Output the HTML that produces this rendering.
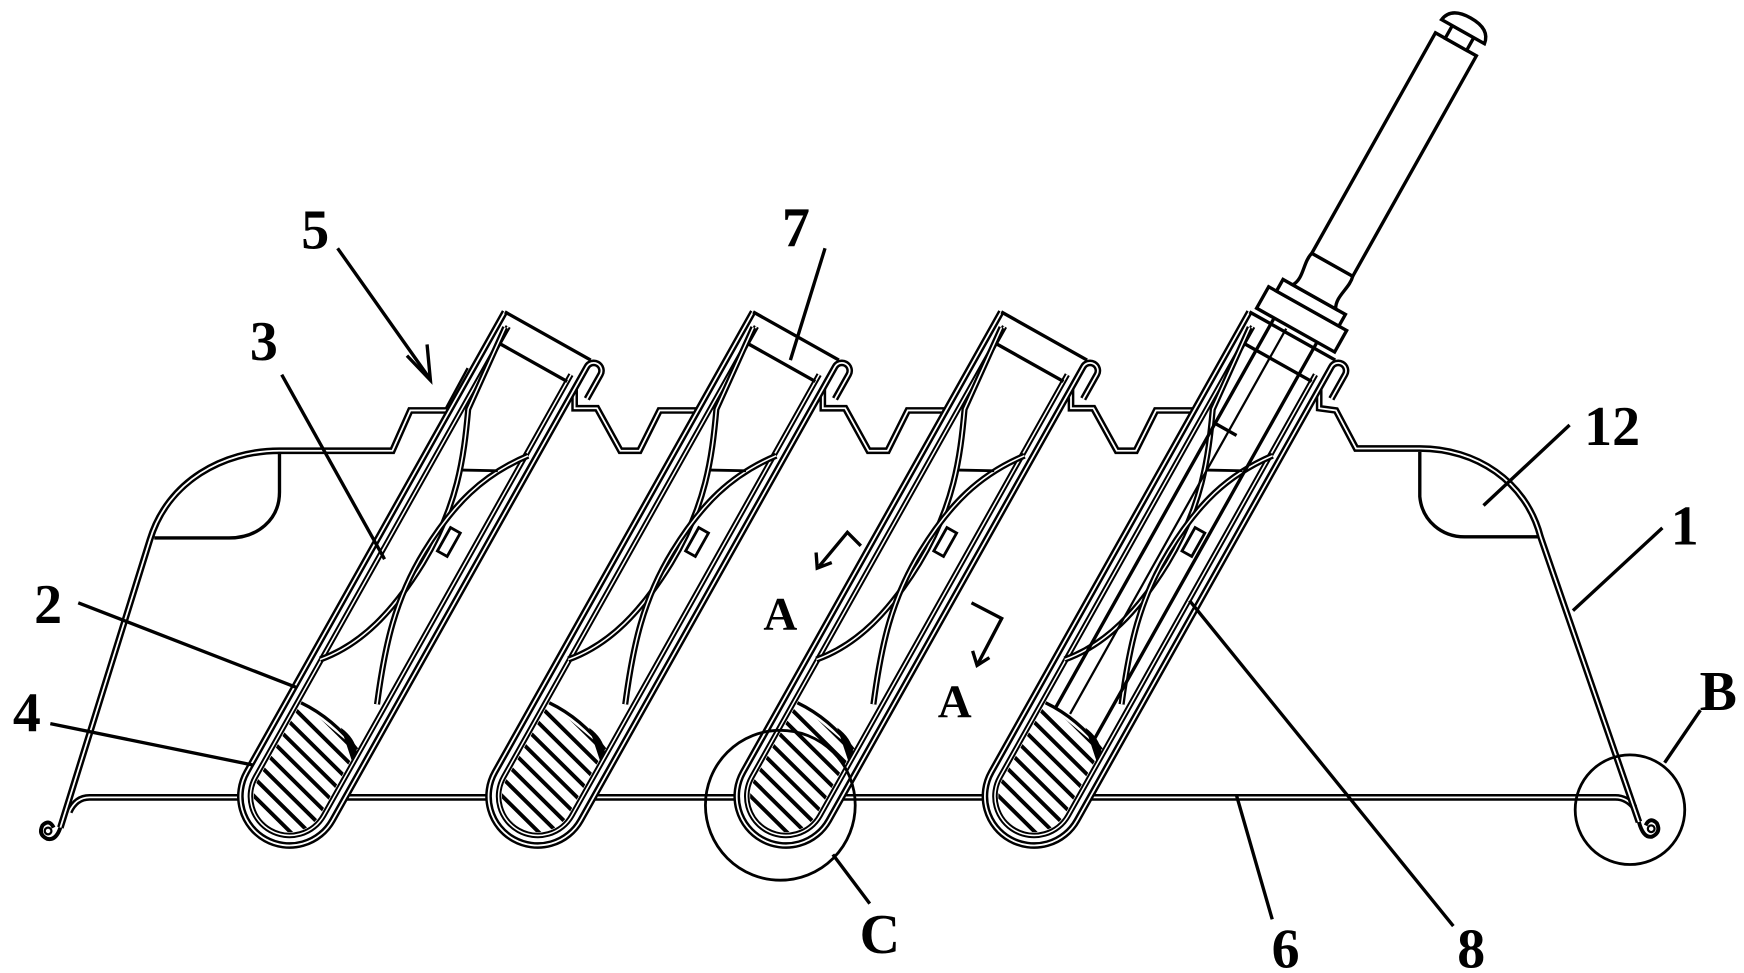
<!DOCTYPE html>
<html><head><meta charset="utf-8"><style>
html,body{margin:0;padding:0;background:#fff;}
svg{display:block;}
text{font-family:"Liberation Serif",serif;font-weight:bold;font-size:50px;fill:#000;}
</style></head><body>
<svg width="1744" height="973" viewBox="0 0 1560 870" preserveAspectRatio="none" xmlns="http://www.w3.org/2000/svg">
<defs>
  <path id="outer" d="M -44 -472 L -44 0 A 44 44 0 0 0 44 0 L 44 -465 A 7 7 0 0 1 58 -465 L 58 -440"/>
  <path id="vial" d="M -35 -462 L -35 0 A 35 35 0 0 0 35 0 L 35 -452"/>
  <path id="waistA" d="M -36 -120 C -10 -150 0 -190 2 -240 C 4 -300 -12 -340 -30 -380 L -37 -460"/>
  <path id="waistB" d="M 37 -370 C 10 -335 0 -300 -2 -250 C -4 -200 8 -160 28 -110"/>
  <clipPath id="hc"><path d="M -32 -78 L 32 -66 L 32 0 A 32 32 0 0 1 -32 0 Z"/></clipPath>
  <g id="hatch" clip-path="url(#hc)" stroke="#000" stroke-width="3.5">
    <line x1="-40" y1="-120" x2="40" y2="-98"/>
    <line x1="-40" y1="-108" x2="40" y2="-86"/>
    <line x1="-40" y1="-96" x2="40" y2="-74"/>
    <line x1="-40" y1="-84" x2="40" y2="-62"/>
    <line x1="-40" y1="-72" x2="40" y2="-50"/>
    <line x1="-40" y1="-60" x2="40" y2="-38"/>
    <line x1="-40" y1="-48" x2="40" y2="-26"/>
    <line x1="-40" y1="-36" x2="40" y2="-14"/>
    <line x1="-40" y1="-24" x2="40" y2="-2"/>
    <line x1="-40" y1="-12" x2="40" y2="10"/>
    <line x1="-40" y1="0" x2="40" y2="22"/>
    <line x1="-40" y1="12" x2="40" y2="34"/>
    <line x1="-40" y1="24" x2="40" y2="46"/>
  </g>
  <g id="tube" fill="none">
    <path d="M -44 -472 L -44 0 A 44 44 0 0 0 44 0 L 44 -472 Z" fill="#fff" stroke="none"/>
    <use href="#outer" stroke="#000" stroke-width="6"/>
    <use href="#outer" stroke="#fff" stroke-width="1.6"/>
    <use href="#vial" stroke="#000" stroke-width="5"/>
    <use href="#vial" stroke="#fff" stroke-width="1.4"/>
    <line x1="-44" y1="-472" x2="44" y2="-472" stroke="#000" stroke-width="3"/>
    <line x1="-35" y1="-445" x2="35" y2="-445" stroke="#000" stroke-width="3"/>
    <use href="#waistA" stroke="#000" stroke-width="5.5"/>
    <use href="#waistA" stroke="#fff" stroke-width="1.4"/>
    <use href="#waistB" stroke="#000" stroke-width="5.5"/>
    <use href="#waistB" stroke="#fff" stroke-width="1.4"/>
    <line x1="-8" y1="-330" x2="20" y2="-345" stroke="#000" stroke-width="2.5"/>
    <rect x="8" y="-280" width="10" height="24" stroke="#000" stroke-width="2.5" fill="#fff"/>
    <use href="#hatch"/>
    <path d="M -32 -78 Q 0 -80 32 -66" stroke="#000" stroke-width="3"/>
    <path d="M 10 -76 Q 26 -74 33 -64 L 33 -55 Z" fill="#000"/>
  </g>
</defs>

<g fill="none">
  <path d="M 62 726 Q 68 713 80 713 L 1445 713 Q 1455 713 1462 722" stroke="#000" stroke-width="6"/>
  <path d="M 62 726 Q 68 713 80 713 L 1445 713 Q 1455 713 1462 722" stroke="#fff" stroke-width="1.6"/>
</g>

<g fill="none">
  <path d="M 54 740 L 134 483 C 150 430 200 403 250 403 L 351 403 L 367 367 L 400 367 L 420 330" stroke="#000" stroke-width="6"/>
  <path d="M 54 740 L 134 483 C 150 430 200 403 250 403 L 351 403 L 367 367 L 400 367 L 420 330" stroke="#fff" stroke-width="1.6"/>
  <path d="M 1180 340 L 1180 365 L 1195 367 L 1213 401 L 1270 401 C 1320 401 1365 430 1378 480 L 1466 735" stroke="#000" stroke-width="6"/>
  <path d="M 1180 340 L 1180 365 L 1195 367 L 1213 401 L 1270 401 C 1320 401 1365 430 1378 480 L 1466 735" stroke="#fff" stroke-width="1.6"/>
  <g stroke="#000" stroke-width="6">
    <path d="M 514 340 L 514 365 L 534 365 L 555 403 L 572 403 L 590 367 L 640 367"/>
    <path d="M 736 340 L 736 365 L 756 365 L 777 403 L 794 403 L 812 367 L 862 367"/>
    <path d="M 958 340 L 958 365 L 978 365 L 999 403 L 1016 403 L 1034 367 L 1084 367"/>
  </g>
  <g stroke="#fff" stroke-width="1.6">
    <path d="M 514 340 L 514 365 L 534 365 L 555 403 L 572 403 L 590 367 L 640 367"/>
    <path d="M 736 340 L 736 365 L 756 365 L 777 403 L 794 403 L 812 367 L 862 367"/>
    <path d="M 958 340 L 958 365 L 978 365 L 999 403 L 1016 403 L 1034 367 L 1084 367"/>
  </g>
  <path d="M 54 740 Q 50 752 42 750 Q 34 746 38 738 Q 44 732 48 740" stroke="#000" stroke-width="3.5"/>
  <circle cx="43" cy="743" r="3" stroke="#000" stroke-width="2"/>
  <path d="M 1466 735 Q 1470 750 1478 748 Q 1486 744 1482 736 Q 1476 730 1472 738" stroke="#000" stroke-width="3.5"/>
  <circle cx="1477" cy="741" r="3" stroke="#000" stroke-width="2"/>
  <path d="M 250 404 L 250 440 C 250 465 230 481 205 481 L 138 481" stroke="#000" stroke-width="3"/>
  <path d="M 1270 404 L 1270 444 C 1272 466 1290 480 1310 480 L 1376 480" stroke="#000" stroke-width="3"/>
</g>

<use href="#tube" transform="translate(259,712) rotate(29.3)"/>
<use href="#tube" transform="translate(481,712) rotate(29.3)"/>
<use href="#tube" transform="translate(703,712) rotate(29.3)"/>
<use href="#tube" transform="translate(925,712) rotate(29.3)"/>

<g transform="translate(925,712) rotate(29.3)" fill="#fff" stroke="#000" stroke-width="3">
  <line x1="-22" y1="-480" x2="-22" y2="-78" fill="none"/>
  <line x1="22" y1="-480" x2="22" y2="-70" fill="none"/>
  <line x1="-8" y1="-475" x2="-8" y2="-80" fill="none" stroke-width="2"/>
  <line x1="-22" y1="-370" x2="0" y2="-370" fill="none"/>
  <rect x="-40" y="-500" width="80" height="22"/>
  <rect x="-32" y="-512" width="64" height="12"/>
  <path d="M -22 -512 C -16 -522 -24 -534 -21 -545 L 21 -545 C 24 -534 16 -522 22 -512 Z"/>
  <rect x="-21" y="-771" width="42" height="226"/>
  <rect x="-11" y="-784" width="22" height="13"/>
  <path d="M -22 -784 Q -20 -798 0 -798 Q 20 -798 22 -784 Z"/>
</g>

<circle cx="1458" cy="724" r="49" fill="none" stroke="#000" stroke-width="2.5"/>
<circle cx="698" cy="720" r="67" fill="none" stroke="#000" stroke-width="2.5"/>

<g stroke="#000" stroke-width="3" fill="none">
  <line x1="302" y1="222" x2="384" y2="338"/>
  <path d="M 364 318 L 385 340 L 382 308"/>
  <line x1="252" y1="335" x2="344" y2="500"/>
  <line x1="70" y1="539" x2="266" y2="615"/>
  <line x1="45" y1="647" x2="226" y2="684"/>
  <line x1="738" y1="222" x2="707" y2="322"/>
  <line x1="1404" y1="380" x2="1327" y2="452"/>
  <line x1="1487" y1="472" x2="1407" y2="546"/>
  <line x1="1521" y1="635" x2="1489" y2="682"/>
  <line x1="745" y1="764" x2="778" y2="808"/>
  <line x1="1106" y1="711" x2="1138" y2="822"/>
  <line x1="1064" y1="537" x2="1300" y2="828"/>
  <path d="M 770 488 L 758 476 L 733 506"/>
  <path d="M 730 494 L 731 508 L 744 503"/>
  <path d="M 869 539 L 896 553 L 875 593"/>
  <path d="M 870 582 L 874 595 L 885 588"/>
</g>

<text x="282" y="222" text-anchor="middle">5</text>
<text x="236" y="322" text-anchor="middle">3</text>
<text x="712" y="220" text-anchor="middle">7</text>
<text x="1442" y="398" text-anchor="middle">12</text>
<text x="1507" y="487" text-anchor="middle">1</text>
<text x="43" y="557" text-anchor="middle">2</text>
<text x="24" y="654" text-anchor="middle">4</text>
<text x="1537" y="635" text-anchor="middle">B</text>
<text x="698" y="563" text-anchor="middle" style="font-size:42px">A</text>
<text x="854" y="641" text-anchor="middle" style="font-size:42px">A</text>
<text x="787" y="852" text-anchor="middle">C</text>
<text x="1150" y="865" text-anchor="middle">6</text>
<text x="1316" y="865" text-anchor="middle">8</text>
</svg>
</body></html>
